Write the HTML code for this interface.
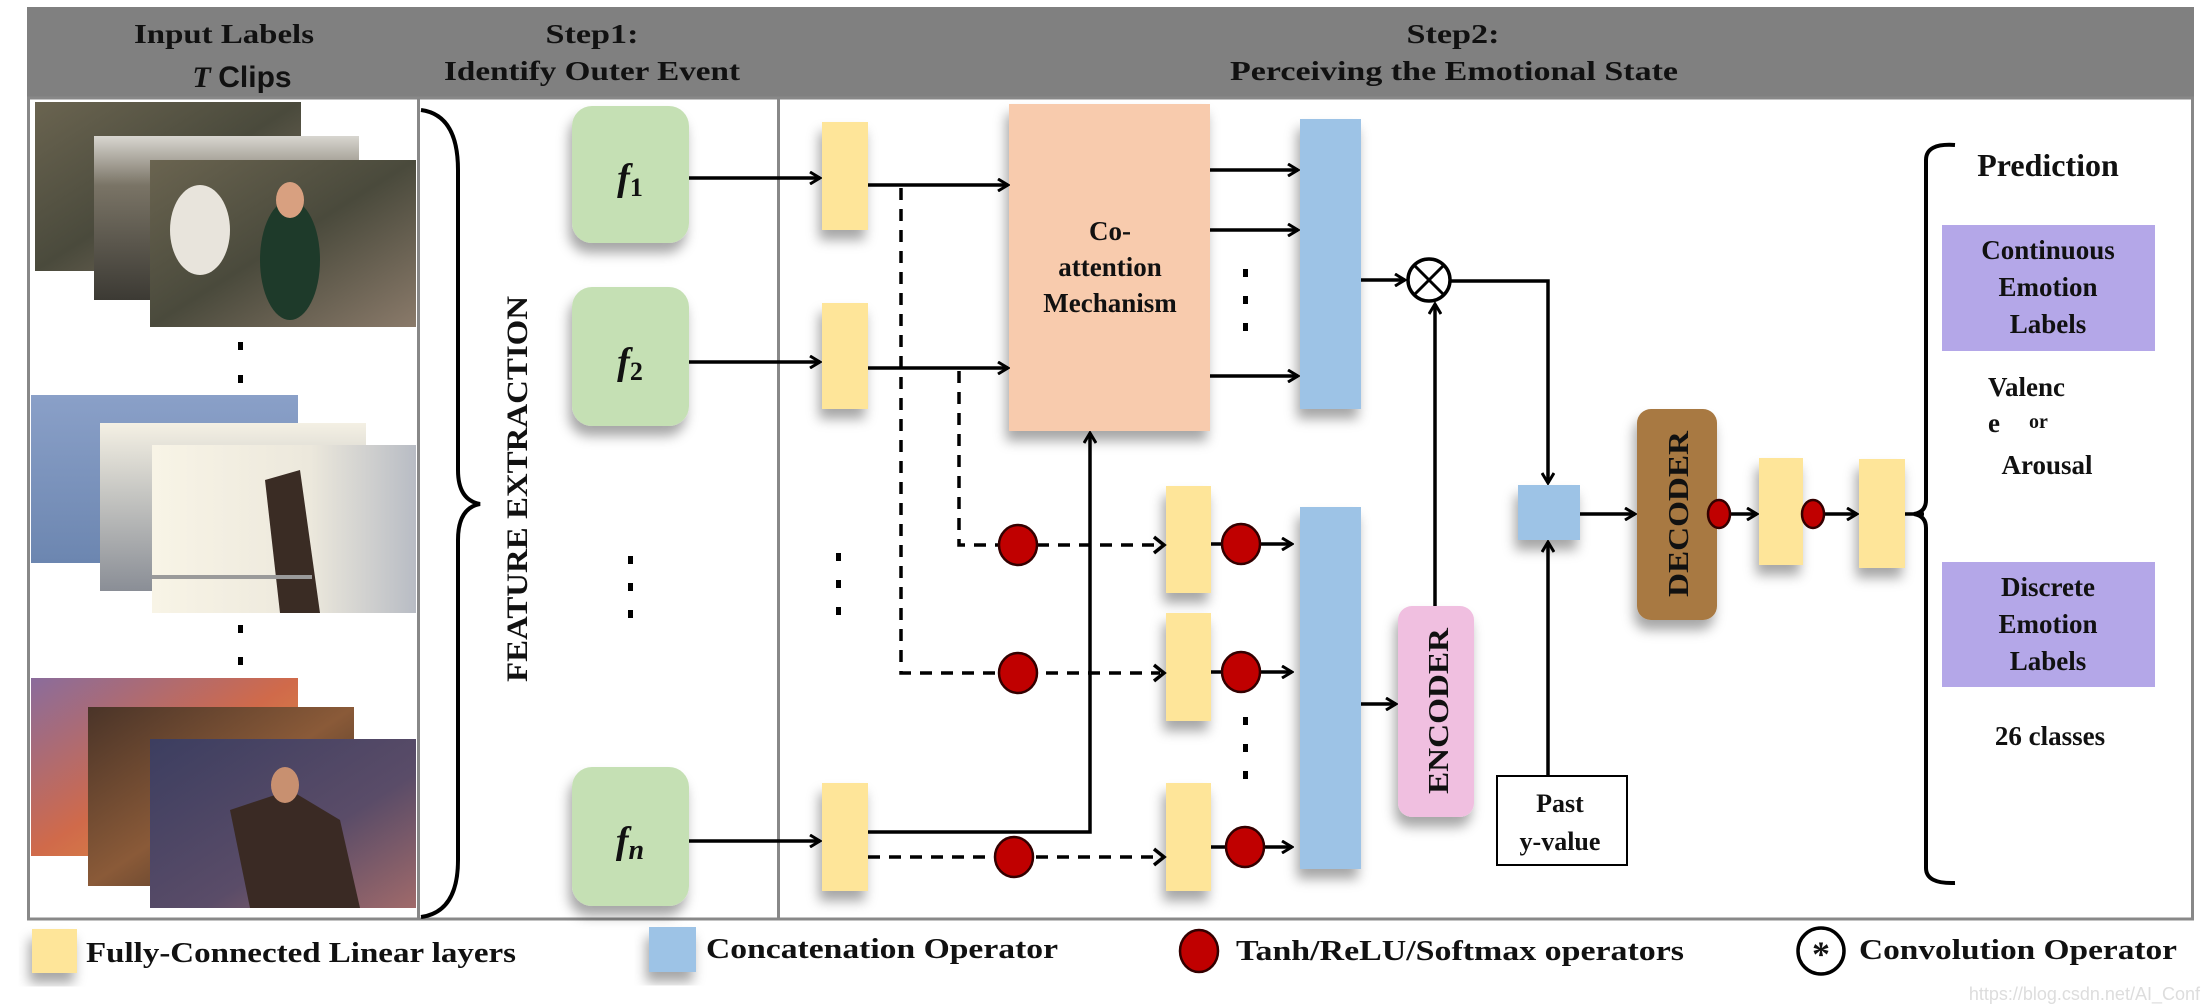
<!DOCTYPE html>
<html><head><meta charset="utf-8"><style>
html,body{margin:0;padding:0;background:#fff;}
svg{display:block;}
text{font-family:"Liberation Serif",serif;font-weight:bold;fill:#111;}
</style></head><body>
<svg width="2208" height="1008" viewBox="0 0 2208 1008" xmlns="http://www.w3.org/2000/svg">
<defs>
<filter id="sh" x="-30%" y="-20%" width="160%" height="150%"><feDropShadow dx="-3" dy="10" stdDeviation="6" flood-color="#000" flood-opacity="0.35"/></filter>
<marker id="ah" markerWidth="14" markerHeight="14" refX="12" refY="7" orient="auto" markerUnits="userSpaceOnUse"><path d="M2,1 L12,7 L2,13" fill="none" stroke="#000" stroke-width="3"/></marker>
<linearGradient id="g1" x1="0" y1="0" x2="1" y2="1"><stop offset="0" stop-color="#6a6450"/><stop offset=".5" stop-color="#4a4a3c"/><stop offset="1" stop-color="#8a7a6a"/></linearGradient>
<linearGradient id="g1b" x1="0" y1="0" x2="0" y2="1"><stop offset="0" stop-color="#d8d6d0"/><stop offset=".3" stop-color="#7a7466"/><stop offset="1" stop-color="#3c3a34"/></linearGradient>
<linearGradient id="g2a" x1="0" y1="0" x2="0" y2="1"><stop offset="0" stop-color="#8aa0c8"/><stop offset="1" stop-color="#6c86b0"/></linearGradient>
<linearGradient id="g2b" x1="0" y1="0" x2="0" y2="1"><stop offset="0" stop-color="#f4f0e4"/><stop offset=".4" stop-color="#c8c8c4"/><stop offset="1" stop-color="#8a8e96"/></linearGradient>
<linearGradient id="g2c" x1="0" y1="0" x2="1" y2="0"><stop offset="0" stop-color="#f8f4e6"/><stop offset=".6" stop-color="#ece8dc"/><stop offset="1" stop-color="#b8bcc4"/></linearGradient>
<linearGradient id="g3a" x1="0" y1="0" x2="1" y2="1"><stop offset="0" stop-color="#8a6c9c"/><stop offset=".5" stop-color="#d06a4a"/><stop offset="1" stop-color="#e0a040"/></linearGradient>
<linearGradient id="g3b" x1="0" y1="0" x2="1" y2="1"><stop offset="0" stop-color="#4a3428"/><stop offset=".5" stop-color="#8a5a38"/><stop offset="1" stop-color="#2a2420"/></linearGradient>
<linearGradient id="g3c" x1="0" y1="0" x2="1" y2="1"><stop offset="0" stop-color="#3c3e60"/><stop offset=".6" stop-color="#5a4c68"/><stop offset="1" stop-color="#a06a6a"/></linearGradient>
</defs>

<!-- header -->
<rect x="27" y="7" width="2167" height="91" fill="#808080"/>
<text x="224" y="43" font-size="27" text-anchor="middle" textLength="180" lengthAdjust="spacingAndGlyphs">Input Labels</text>
<text x="242" y="87" font-size="30" text-anchor="middle"><tspan font-style="italic">T</tspan> <tspan font-family="Liberation Sans">Clips</tspan></text>
<text x="592" y="43" font-size="27" text-anchor="middle" textLength="93" lengthAdjust="spacingAndGlyphs">Step1:</text>
<text x="592" y="80" font-size="27" text-anchor="middle" textLength="296" lengthAdjust="spacingAndGlyphs">Identify Outer Event</text>
<text x="1453" y="43" font-size="27" text-anchor="middle" textLength="93" lengthAdjust="spacingAndGlyphs">Step2:</text>
<text x="1454" y="80" font-size="27" text-anchor="middle" textLength="448" lengthAdjust="spacingAndGlyphs">Perceiving the Emotional State</text>

<!-- panels -->
<rect x="28.5" y="98" width="390" height="821" fill="#fff" stroke="#888" stroke-width="3"/>
<rect x="418.5" y="98" width="360" height="821" fill="#fff" stroke="#888" stroke-width="3"/>
<rect x="778.5" y="98" width="1414" height="821" fill="#fff" stroke="#888" stroke-width="3"/>

<!-- photos stack 1 -->
<rect x="35" y="102" width="266" height="169" fill="url(#g1)"/>
<rect x="94" y="136" width="265" height="164" fill="url(#g1b)"/>
<rect x="150" y="160" width="266" height="167" fill="url(#g1)"/>
<ellipse cx="200" cy="230" rx="30" ry="45" fill="#e8e4dc"/>
<ellipse cx="290" cy="260" rx="30" ry="60" fill="#1e3a2a"/>
<ellipse cx="290" cy="200" rx="14" ry="18" fill="#d8a080"/>
<!-- stack 2 -->
<rect x="31" y="395" width="267" height="168" fill="url(#g2a)"/>
<rect x="100" y="423" width="266" height="168" fill="url(#g2b)"/>
<rect x="152" y="445" width="264" height="168" fill="url(#g2c)"/>
<path d="M265 480 L300 470 L320 613 L280 613 Z" fill="#3a2c24"/>
<rect x="152" y="575" width="160" height="4" fill="#9a9a9a"/>
<!-- stack 3 -->
<rect x="31" y="678" width="267" height="178" fill="url(#g3a)"/>
<rect x="88" y="707" width="266" height="179" fill="url(#g3b)"/>
<rect x="150" y="739" width="266" height="169" fill="url(#g3c)"/>
<path d="M230 810 L290 790 L340 820 L360 908 L250 908 Z" fill="#3a2a24"/>
<ellipse cx="285" cy="785" rx="14" ry="18" fill="#c89070"/>

<!-- panel1 dots -->
<g fill="#000"><rect x="238" y="342" width="5" height="8"/><rect x="238" y="375" width="5" height="8"/><rect x="238" y="625" width="5" height="8"/><rect x="238" y="657" width="5" height="8"/></g>

<!-- brace -->
<path d="M421 110 Q458 115 458 170 L458 470 Q458 500 480 504 Q458 508 458 540 L458 860 Q458 912 421 917" fill="none" stroke="#000" stroke-width="4"/>
<text transform="translate(527,489) rotate(-90)" font-size="30" text-anchor="middle" textLength="386" lengthAdjust="spacingAndGlyphs">FEATURE  EXTRACTION</text>

<!-- f boxes -->
<g filter="url(#sh)" fill="#c5e0b4">
<rect x="572" y="106" width="117" height="137" rx="20"/>
<rect x="572" y="287" width="117" height="139" rx="20"/>
<rect x="572" y="767" width="117" height="139" rx="20"/>
</g>
<text x="630" y="190" font-size="38" text-anchor="middle"><tspan font-style="italic">f</tspan><tspan font-size="26" dy="6">1</tspan></text>
<text x="630" y="374" font-size="38" text-anchor="middle"><tspan font-style="italic">f</tspan><tspan font-size="26" dy="6">2</tspan></text>
<text x="630" y="853" font-size="38" text-anchor="middle"><tspan font-style="italic">f</tspan><tspan font-size="28" dy="6" font-style="italic">n</tspan></text>
<g fill="#000"><rect x="628" y="556" width="5" height="8"/><rect x="628" y="583" width="5" height="8"/><rect x="628" y="610" width="5" height="8"/>
<rect x="836" y="553" width="5" height="8"/><rect x="836" y="580" width="5" height="8"/><rect x="836" y="607" width="5" height="8"/>
<rect x="1243" y="269" width="5" height="8"/><rect x="1243" y="296" width="5" height="8"/><rect x="1243" y="323" width="5" height="8"/>
<rect x="1243" y="717" width="5" height="8"/><rect x="1243" y="744" width="5" height="8"/><rect x="1243" y="771" width="5" height="8"/></g>

<!-- yellow bars, blue bars, boxes -->
<g filter="url(#sh)">
<rect x="822" y="122" width="46" height="108" fill="#fee599"/>
<rect x="822" y="303" width="46" height="106" fill="#fee599"/>
<rect x="822" y="783" width="46" height="108" fill="#fee599"/>
<rect x="1009" y="104" width="201" height="327" fill="#f8cbad"/>
<rect x="1166" y="486" width="45" height="107" fill="#fee599"/>
<rect x="1166" y="613" width="45" height="108" fill="#fee599"/>
<rect x="1166" y="783" width="45" height="108" fill="#fee599"/>
<rect x="1300" y="119" width="61" height="290" fill="#9dc3e6"/>
<rect x="1300" y="507" width="61" height="362" fill="#9dc3e6"/>
<rect x="1398" y="606" width="76" height="211" rx="14" fill="#f0bfe0"/>
<rect x="1518" y="485" width="62" height="55" fill="#9dc3e6"/>
<rect x="1637" y="409" width="80" height="211" rx="14" fill="#a87942"/>
<rect x="1759" y="458" width="44" height="107" fill="#fee599"/>
<rect x="1859" y="459" width="46" height="109" fill="#fee599"/>
</g>
<text x="1110" y="240" font-size="27" text-anchor="middle">Co-</text>
<text x="1110" y="276" font-size="27" text-anchor="middle">attention</text>
<text x="1110" y="312" font-size="27" text-anchor="middle">Mechanism</text>
<text transform="translate(1448,711) rotate(-90)" font-size="28" text-anchor="middle" textLength="166" lengthAdjust="spacingAndGlyphs">ENCODER</text>
<text transform="translate(1688,514) rotate(-90)" font-size="28" text-anchor="middle" textLength="166" lengthAdjust="spacingAndGlyphs">DECODER</text>

<!-- solid arrows -->
<g stroke="#000" stroke-width="3.5" fill="none" marker-end="url(#ah)">
<line x1="689" y1="178" x2="820" y2="178"/>
<line x1="689" y1="362" x2="820" y2="362"/>
<line x1="689" y1="841" x2="820" y2="841"/>
<line x1="868" y1="185" x2="1008" y2="185"/>
<line x1="868" y1="368" x2="1008" y2="368"/>
<polyline points="868,832 1090,832 1090,433"/>
<line x1="1210" y1="170" x2="1298" y2="170"/>
<line x1="1210" y1="230" x2="1298" y2="230"/>
<line x1="1210" y1="376" x2="1298" y2="376"/>
<line x1="1361" y1="280" x2="1405" y2="280"/>
<polyline points="1451,281 1548,281 1548,483"/>
<line x1="1435" y1="606" x2="1435" y2="304"/>
<line x1="1361" y1="704" x2="1396" y2="704"/>
<line x1="1548" y1="776" x2="1548" y2="542"/>
<line x1="1580" y1="514" x2="1635" y2="514"/>
<line x1="1730" y1="514" x2="1757" y2="514"/>
<line x1="1824" y1="514" x2="1857" y2="514"/>
<line x1="1211" y1="544" x2="1292" y2="544"/>
<line x1="1211" y1="672" x2="1292" y2="672"/>
<line x1="1211" y1="847" x2="1292" y2="847"/>
</g>
<line x1="1905" y1="514" x2="1924" y2="514" stroke="#000" stroke-width="3.5"/>

<!-- dashed -->
<g stroke="#000" stroke-width="3.5" fill="none" stroke-dasharray="12,9">
<polyline points="901,188 901,673 1160,673"/>
<polyline points="959,371 959,545 1160,545"/>
<line x1="868" y1="857" x2="1160" y2="857"/>
</g>
<g stroke="#000" stroke-width="3.5" fill="none"><path d="M1154,537 L1164,545 L1154,553"/><path d="M1154,665 L1164,673 L1154,681"/><path d="M1154,849 L1164,857 L1154,865"/></g>

<!-- red circles -->
<g fill="#c00000" stroke="#300" stroke-width="2.5">
<ellipse cx="1018" cy="545" rx="19" ry="20"/>
<ellipse cx="1018" cy="673" rx="19" ry="20"/>
<ellipse cx="1014" cy="857" rx="19" ry="20"/>
<ellipse cx="1241" cy="544" rx="19" ry="20"/>
<ellipse cx="1241" cy="672" rx="19" ry="20"/>
<ellipse cx="1245" cy="847" rx="19" ry="20"/>
<ellipse cx="1719" cy="514" rx="11" ry="14"/>
<ellipse cx="1813" cy="514" rx="11" ry="14"/>
<ellipse cx="1199" cy="951" rx="19" ry="21"/>
</g>

<!-- otimes -->
<circle cx="1429" cy="280" r="21" fill="#fff" stroke="#000" stroke-width="3.5"/>
<line x1="1414" y1="265" x2="1444" y2="295" stroke="#000" stroke-width="3"/>
<line x1="1444" y1="265" x2="1414" y2="295" stroke="#000" stroke-width="3"/>

<!-- past y-value -->
<rect x="1497" y="776" width="130" height="89" fill="#fff" stroke="#000" stroke-width="2"/>
<text x="1560" y="812" font-size="26" text-anchor="middle">Past</text>
<text x="1560" y="850" font-size="26" text-anchor="middle">y-value</text>

<!-- right brace -->
<path d="M1955 145 Q1926 143 1926 160 L1926 500 Q1926 512 1914 514 Q1926 516 1926 528 L1926 868 Q1926 884 1955 883" fill="none" stroke="#000" stroke-width="4"/>
<text x="2048" y="176" font-size="32" text-anchor="middle">Prediction</text>
<rect x="1942" y="225" width="213" height="126" fill="#b4a7e8"/>
<text x="2048" y="259" font-size="27" text-anchor="middle">Continuous</text>
<text x="2048" y="296" font-size="27" text-anchor="middle">Emotion</text>
<text x="2048" y="333" font-size="27" text-anchor="middle">Labels</text>
<text x="1988" y="396" font-size="27">Valenc</text>
<text x="1988" y="432" font-size="27">e</text><text x="2029" y="428" font-size="20">or</text>
<text x="2047" y="474" font-size="27" text-anchor="middle">Arousal</text>
<rect x="1942" y="562" width="213" height="125" fill="#b4a7e8"/>
<text x="2048" y="596" font-size="27" text-anchor="middle">Discrete</text>
<text x="2048" y="633" font-size="27" text-anchor="middle">Emotion</text>
<text x="2048" y="670" font-size="27" text-anchor="middle">Labels</text>
<text x="2050" y="745" font-size="27" text-anchor="middle">26 classes</text>

<!-- legend -->
<rect x="32" y="929" width="45" height="44" fill="#fee599" filter="url(#sh)"/>
<text x="86" y="962" font-size="28" textLength="430" lengthAdjust="spacingAndGlyphs">Fully-Connected Linear layers</text>
<rect x="649" y="927" width="47" height="45" fill="#9dc3e6" filter="url(#sh)"/>
<text x="706" y="958" font-size="28" textLength="352" lengthAdjust="spacingAndGlyphs">Concatenation Operator</text>
<text x="1236" y="960" font-size="28" textLength="448" lengthAdjust="spacingAndGlyphs">Tanh/ReLU/Softmax operators</text>
<circle cx="1821" cy="951" r="23" fill="#fff" stroke="#000" stroke-width="3.5"/>
<text x="1821" y="966" font-size="36" text-anchor="middle" font-family="Liberation Sans">*</text>
<text x="1859" y="959" font-size="28" textLength="318" lengthAdjust="spacingAndGlyphs">Convolution Operator</text>
<text x="2200" y="1000" font-size="18" fill="#ddd" text-anchor="end" font-weight="normal" style="fill:#ddd;font-family:'Liberation Sans',sans-serif;font-weight:normal">https://blog.csdn.net/AI_Conf</text>
</svg>
</body></html>
